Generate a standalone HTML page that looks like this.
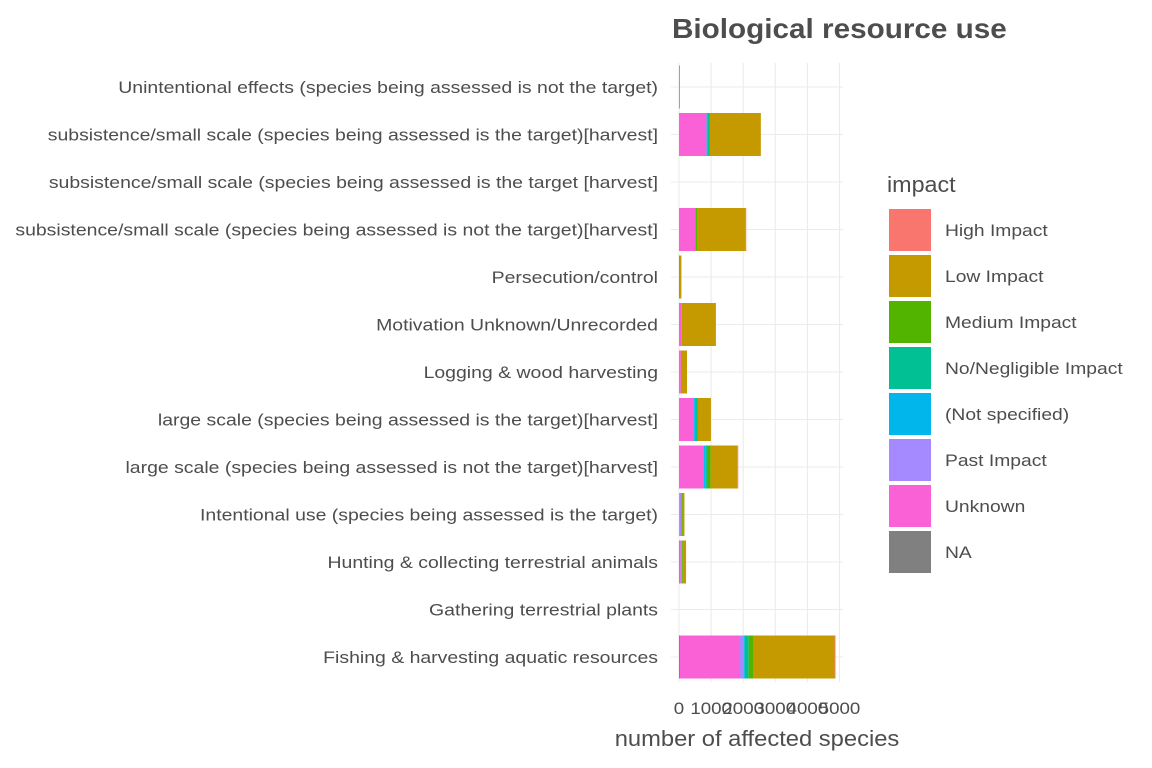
<!DOCTYPE html>
<html><head><meta charset="utf-8"><style>
body{margin:0;background:#fff;}
svg{display:block;font-family:"Liberation Sans",sans-serif;}
</style></head><body>
<svg id="chart" width="1152" height="768">
<text transform="translate(672,38) scale(1.06,1)" font-size="28" font-weight="bold" fill="#4d4d4d">Biological resource use</text>
<g id="grid"></g><g id="bars"></g><g id="ylabels"></g><g id="xticks"></g>
<text transform="translate(757,746) scale(1.08,1)" font-size="22" fill="#4d4d4d" text-anchor="middle">number of affected species</text>
<g id="legend"></g>
</svg>
<script>
const categories=["Unintentional effects (species being assessed is not the target)","subsistence/small scale (species being assessed is the target)[harvest]","subsistence/small scale (species being assessed is the target [harvest]","subsistence/small scale (species being assessed is not the target)[harvest]","Persecution/control","Motivation Unknown/Unrecorded","Logging & wood harvesting","large scale (species being assessed is the target)[harvest]","large scale (species being assessed is not the target)[harvest]","Intentional use (species being assessed is the target)","Hunting & collecting terrestrial animals","Gathering terrestrial plants","Fishing & harvesting aquatic resources"];
const impacts=["High Impact","Low Impact","Medium Impact","No/Negligible Impact","(Not specified)","Past Impact","Unknown","NA"];
const colors=["#F8766D","#C49A00","#53B400","#00C094","#00B6EB","#A58AFF","#FB61D7","#808080"];
const highImpact=[0,0,0,20,0,0,0,0,30,0,0,0,30];
const lowImpact=[25,1600,0,1515,60,1060,190,405,830,60,100,0,2520];
const mediumImpact=[0,0,0,40,15,0,0,30,115,30,30,0,155];
const noNegligible=[0,70,0,20,0,0,0,30,40,0,0,0,125];
const notSpecified=[0,20,0,0,0,0,0,60,50,0,0,0,20];
const pastImpact=[0,0,0,0,0,0,0,0,0,60,40,0,125];
const unknown=[0,860,0,500,0,90,60,470,780,20,30,0,1870];
const naValues=[5,0,0,0,0,0,0,0,0,0,20,0,30];
const series=[highImpact,lowImpact,mediumImpact,noNegligible,notSpecified,pastImpact,unknown,naValues];
const xTicks=[0,1000,2000,3000,4000,5000];
const NS="http://www.w3.org/2000/svg";
const x0=679,pxPer=0.0321,y0=87,step=47.5,bh=43;
const X=v=>x0+v*pxPer, Y=i=>y0+i*step;
function mk(tag,attrs,parent){const e=document.createElementNS(NS,tag);for(const k in attrs)e.setAttribute(k,attrs[k]);parent.appendChild(e);return e;}
const grid=document.getElementById('grid');
categories.forEach((c,i)=>{const l=mk('line',{x1:671,x2:843,y1:Y(i),y2:Y(i),stroke:'#ebebeb','stroke-width':1.1},grid);

});
xTicks.forEach(t=>{const l=mk('line',{x1:X(t),x2:X(t),y1:63,y2:682,stroke:'#ebebeb','stroke-width':1.1},grid);


const tx=mk('text',{transform:`translate(${X(t)},714) scale(1.1,1)`,'font-size':17,fill:'#4d4d4d','text-anchor':'middle'},document.getElementById('xticks'));


tx.textContent=t;});
const bars=document.getElementById('bars');
categories.forEach((c,i)=>{let acc=0;
for(let s=series.length-1;s>=0;s--){const v=series[s][i];if(v<=0)continue;
const r=mk('rect',{x:X(acc),y:Y(i)-bh/2,width:v*pxPer,height:bh,fill:colors[s]},bars);


acc+=v;}
const t=mk('text',{transform:`translate(658,${Y(i)+6}) scale(1.144,1)`,'font-size':17,fill:'#4d4d4d','text-anchor':'end'},document.getElementById('ylabels'));


t.textContent=c;});
const lg=document.getElementById('legend');
const lt=mk('text',{transform:'translate(887,192) scale(1.06,1)','font-size':22,fill:'#4d4d4d'},lg);


lt.textContent='impact';
impacts.forEach((n,k)=>{const y=209+k*46;
const r=mk('rect',{x:889,y:y,width:42,height:42,fill:colors[k]},lg);


const t=mk('text',{transform:`translate(945,${y+27}) scale(1.134,1)`,'font-size':17,fill:'#4d4d4d'},lg);


t.textContent=n;});
</script>
</body></html>
